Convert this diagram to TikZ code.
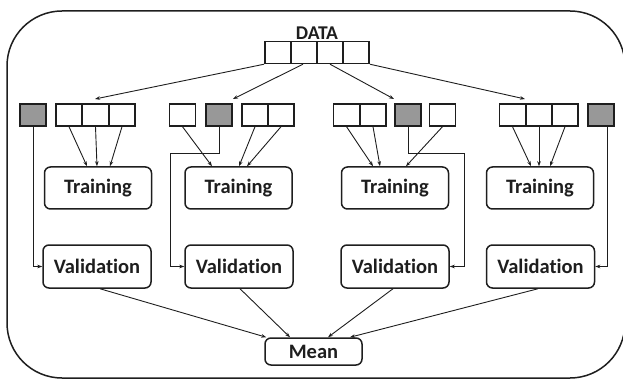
\documentclass[tikz,border=0pt]{standalone}
\usepackage{fontspec}
\setmainfont[RawFeature={-liga;-clig}]{Carlito}
\usetikzlibrary{arrows.meta}
\definecolor{cellgray}{RGB}{152,152,152}
\definecolor{ink}{RGB}{30,30,30}
\tikzset{
  cell/.style={draw=ink, line width=1.4pt, minimum width=26.3pt, minimum height=22pt, inner sep=0pt, fill=white},
  graycell/.style={cell, fill=cellgray},
  box/.style={draw=ink, line width=1.5pt, rounded corners=6pt, inner sep=0pt, font=\fontsize{20.5}{24}\selectfont\bfseries, text=ink},
  trainbox/.style={box, minimum width=107pt, minimum height=42pt},
  valbox/.style={box, minimum width=108pt, minimum height=43pt},
  arr/.style={draw=ink, line width=0.9pt, -{Stealth[length=5pt,width=3.6pt]}},
  lbl/.style={font=\fontsize{19.5}{22}\selectfont\bfseries, text=ink, inner sep=0pt}
}
\begin{document}
\begin{tikzpicture}[x=1pt,y=-1pt]
\useasboundingbox (0,0) rectangle (623,379);
\draw[draw=ink, line width=1.5pt, rounded corners=55pt] (7,11) rectangle (625,378);

% DATA
\node[lbl] (data) at (317,33) {DATA};
\node[cell] (d1) at (278,52.5) {};
\node[cell] (d2) at (304,52.5) {};
\node[cell] (d3) at (330,52.5) {};
\node[cell] (d4) at (356,52.5) {};

% folds
\node[graycell] (g1) at (33,115) {};
\node[cell] (w11) at (69,115) {};
\node[cell] (w12) at (95.5,115) {};
\node[cell] (w13) at (122,115) {};

\node[cell] (w21) at (182.5,115) {};
\node[graycell] (g2) at (219,115) {};
\node[cell] (w23) at (255,115) {};
\node[cell] (w24) at (281,115) {};

\node[cell] (w31) at (346.5,115) {};
\node[cell] (w32) at (373,115) {};
\node[graycell] (g3) at (408,115) {};
\node[cell] (w34) at (442.5,115) {};

\node[cell] (w41) at (512.5,115) {};
\node[cell] (w42) at (539,115) {};
\node[cell] (w43) at (565,115) {};
\node[graycell] (g4) at (601,115) {};

\coordinate (f1) at (95,99);
\coordinate (f2) at (233,99);
\coordinate (f3) at (394,99);
\coordinate (f4) at (525,99);

% Training
\node[trainbox] (t1) at (98,188) {Training};
\node[trainbox] (t2) at (238.5,188) {Training};
\node[trainbox] (t3) at (395,188) {Training};
\node[trainbox] (t4) at (540,188) {Training};

% Validation
\node[valbox] (v1) at (97,266.5) {Validation};
\node[valbox] (v2) at (239,266.5) {Validation};
\node[valbox] (v3) at (395,266.5) {Validation};
\node[valbox] (v4) at (540.5,266.5) {Validation};

% Mean
\node[box, minimum width=97pt, minimum height=27pt] (m) at (313.5,351.5) {Mean};

% DATA arrows
\draw[arr] (d1.south west) -- (f1);
\draw[arr] ([xshift=-1]d2.south) -- (f2);
\draw[arr] (d3.south) -- (f3);
\draw[arr] (d4.south east) -- (f4);

% fold 1
\draw[arr] (w11.south) -- ([xshift=-11]t1.north);
\draw[arr] (w12.south) -- ([xshift=-1]t1.north);
\draw[arr] (w13.south) -- ([xshift=12]t1.north);
\draw[arr] (g1.south) |- (v1.west);

% fold 2
\draw[arr] (w21.south) -- ([xshift=-26.5]t2.north);
\draw[arr] (w23.south) -- ([xshift=0.5]t2.north);
\draw[arr] (w24.south) -- ([xshift=8.5]t2.north);
\draw[arr] (g2.south) -- ++(0,27) -- ++(-49,0) |- (v2.west);

% fold 3
\draw[arr] (w31.south) -- ([xshift=-22]t3.north);
\draw[arr] (w32.south) -- ([xshift=-15]t3.north);
\draw[arr] (w34.south) -- ([xshift=11]t3.north);
\draw[arr] (g3.south) -- ++(0,27) -- ++(56,0) |- (v3.east);

% fold 4
\draw[arr] (w41.south) -- ([xshift=-9]t4.north);
\draw[arr] (w42.south) -- ([xshift=-1]t4.north);
\draw[arr] (w43.south) -- ([xshift=10]t4.north);
\draw[arr] ([xshift=6]g4.south) |- (v4.east);

% to Mean
\draw[arr] ([xshift=3]v1.south) -- ([xshift=2]m.north west);
\draw[arr] ([xshift=1]v2.south) -- ([xshift=-23.5]m.north);
\draw[arr] ([xshift=-2]v3.south) -- ([xshift=14.5]m.north);
\draw[arr] ([xshift=-2.5]v4.south) -- ([xshift=36.5]m.north);
\end{tikzpicture}
\end{document}
